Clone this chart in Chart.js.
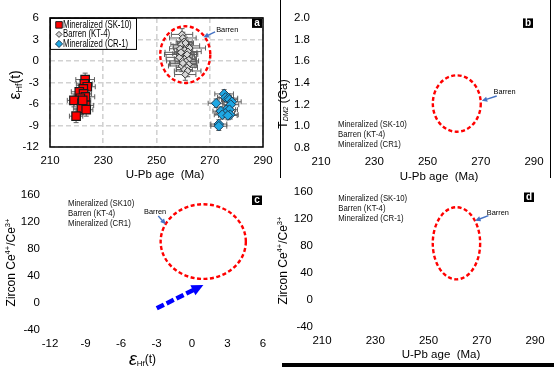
<!DOCTYPE html>
<html>
<head>
<meta charset="utf-8">
<script src="https://cdn.jsdelivr.net/npm/chart.js@4/dist/chart.umd.min.js"></script>
<style>
html, body { margin: 0; padding: 0; background: #fff; }
#wrap { position: relative; width: 554px; height: 368px; overflow: hidden; }
#wrap canvas { position: absolute; left: 0; top: 0; }
.rule { position: absolute; background: #000; }
</style>
</head>
<body>
<div id="wrap">
  <canvas id="chartA" width="554" height="368"></canvas>
  <canvas id="chartB" width="554" height="368"></canvas>
  <canvas id="chartC" width="554" height="368"></canvas>
  <canvas id="chartD" width="554" height="368"></canvas>
  <div class="rule" style="left:280px;top:0;width:1px;height:178px"></div>
  <div class="rule" style="left:550px;top:0;width:1px;height:178px"></div>
  <div class="rule" style="left:282px;top:363px;width:272px;height:4px"></div>
</div>
<script>
// Panel a data: U-Pb age (Ma) vs eHf(t), with 1 sigma errors
const sk10Age = [223.2, 222.9, 224.0, 222.5, 221.0, 222.6, 223.3, 221.4, 219.0, 222.0, 223.4, 221.8, 223.6, 219.8, 222.3];
const sk10Hf = [-2.6, -3.2, -3.6, -3.9, -4.3, -4.6, -5.0, -5.2, -5.5, -5.9, -6.2, -6.6, -6.8, -7.7, -5.5];
const sk10AgeErr = [3.5, 3.0, 3.0, 2.5, 3.0, 3.0, 3.5, 3.0, 2.5, 3.0, 3.0, 3.0, 2.5, 2.5, 3.0];
const sk10HfErr = [0.9, 0.9, 0.9, 0.9, 0.9, 0.9, 0.9, 0.9, 0.9, 0.9, 0.9, 0.9, 0.9, 0.9, 0.9];

const kt4Age = [259.6, 259.9, 260.4, 259.4, 261.2, 262.4, 258.9, 260.6, 261.8, 260.1, 259.0, 261.3, 258.6, 260.7,
  262.0, 259.8, 261.0, 260.2, 262.1, 259.5, 261.4, 260.5, 261.7, 260.8, 259.2, 260.9, 261.5, 259.9];
const kt4Hf = [3.7, 3.2, 2.7, 2.3, 2.1, 1.8, 1.7, 1.5, 1.3, 1.0, 0.9, 0.7, 0.5, 0.3,
  0.2, 0.0, -0.1, -0.4, -0.5, -0.7, -0.9, -1.2, -1.4, -1.9, 1.2, 2.5, 0.9, -0.3];
const kt4AgeErr = [4, 5, 3, 4, 5, 6, 4, 3, 5, 4, 6, 3, 5, 4, 3, 6, 4, 5, 3, 5, 4, 3, 5, 4, 6, 3, 4, 5];
const kt4HfErr = [0.8, 0.8, 0.8, 0.8, 0.8, 0.8, 0.8, 0.8, 0.8, 0.8, 0.8, 0.8, 0.8, 0.8,
  0.8, 0.8, 0.8, 0.8, 0.8, 0.8, 0.8, 0.8, 0.8, 0.8, 0.8, 0.8, 0.8, 0.8];

const cr1Age = [275.4, 275.9, 277.0, 277.4, 272.4, 278.3, 277.9, 276.2, 277.4, 274.2, 275.8, 277.7, 274.7, 276.8, 273.4, 273.4];
const cr1Hf = [-4.6, -5.1, -5.2, -5.4, -5.9, -5.7, -6.1, -6.8, -6.8, -7.0, -7.3, -7.5, -7.5, -7.6, -8.8, -9.1];
const cr1AgeErr = [3.5, 3.0, 3.5, 3.0, 3.0, 3.5, 3.0, 3.5, 3.0, 3.0, 3.5, 3.0, 3.0, 3.5, 3.0, 3.0];
const cr1HfErr = [0.6, 0.6, 0.6, 0.6, 0.6, 0.6, 0.6, 0.6, 0.6, 0.6, 0.6, 0.6, 0.6, 0.6, 0.6, 0.6];

// Axis ranges and tick steps [min, max, step]
const ageAxis = [210, 290, 20];
const hfAxisA = [-12, 6, 3];
const tdmAxis = [0.8, 2.0, 0.2];
const hfAxisC = [-12, 6, 3];
const ceAxis = [-40, 160, 40];

// "Barren" field ellipses [centreX, centreY, radiusX, radiusY]
const barrenA = [260.8, 0.88, 9.4, 3.95];
const barrenB = [261.0, 1.21, 9.0, 0.26];
const barrenC = [0.95, 91, 3.6, 55.3];
const barrenD = [260.5, 84, 8.9, 53.4];

// Pointer arrows [fromX, fromY, toX, toY] and "Barren" label anchor [x, y]
const arrowA = [272.0, 4.05, 267.6, 3.3];
const arrowB = [276.0, 1.28, 270.4, 1.235];
const arrowC = [-2.85, 128.9, -2.22, 116.6];
const arrowD = [272.5, 124.9, 267.5, 117.5];
const labelA = [272.4, 4.4];
const labelB = [274.8, 1.32];
const labelC = [-4.05, 135.3];
const labelD = [271.9, 129.9];
const trendC = [-2.98, -7.9, 0.96, 26.7];

const seriesNamesA = ["Mineralized (SK-10)", "Barren (KT-4)", "Mineralized (CR-1)"];
const seriesNamesB = ["Mineralized (SK-10)", "Barren (KT-4)", "Mineralized (CR1)"];
const seriesNamesC = ["Mineralized (SK10)", "Barren (KT-4)", "Mineralized (CR1)"];
const seriesNamesD = ["Mineralized (SK-10)", "Barren (KT-4)", "Mineralized (CR-1)"];

Chart.defaults.font.family = "'Liberation Sans', Arial, sans-serif";
Chart.defaults.color = "#000";

const RED = "#ff0000", GREY = "#d6d6d6", CYAN = "#1fa8e4";

function pts(xs, ys) { return xs.map((x, i) => ({ x: x, y: ys[i] })); }

function squeezeText(ctx, text, x, y, size, scale) {
  ctx.save();
  ctx.font = size + "px 'Liberation Sans', Arial, sans-serif";
  ctx.textBaseline = "middle";
  ctx.translate(x, y);
  ctx.scale(scale, 1);
  ctx.fillText(text, 0, 0);
  ctx.restore();
}

// parts: {t, size, dy, italic}
function richText(ctx, parts, x, y, rotate) {
  ctx.save();
  ctx.translate(x, y);
  if (rotate) ctx.rotate(-Math.PI / 2);
  ctx.textBaseline = "middle";
  ctx.fillStyle = "#000";
  const fontOf = p => (p.italic ? "italic " : "") + p.size + "px 'Liberation Sans', Arial, sans-serif";
  const widths = parts.map(p => { ctx.font = fontOf(p); return ctx.measureText(p.t).width; });
  let cx = -widths.reduce((a, b) => a + b, 0) / 2;
  parts.forEach((p, i) => {
    ctx.font = fontOf(p);
    ctx.fillText(p.t, cx, p.dy || 0);
    cx += widths[i];
  });
  ctx.restore();
}

function arrow(ctx, x0, y0, x1, y1, color, width, head, dash) {
  const ang = Math.atan2(y1 - y0, x1 - x0);
  ctx.save();
  ctx.strokeStyle = color;
  ctx.fillStyle = color;
  ctx.lineWidth = width;
  ctx.setLineDash(dash || []);
  ctx.beginPath();
  ctx.moveTo(x0, y0);
  ctx.lineTo(x1 - Math.cos(ang) * head * 0.8, y1 - Math.sin(ang) * head * 0.8);
  ctx.stroke();
  ctx.setLineDash([]);
  ctx.beginPath();
  ctx.moveTo(x1, y1);
  ctx.lineTo(x1 - head * Math.cos(ang - 0.45), y1 - head * Math.sin(ang - 0.45));
  ctx.lineTo(x1 - head * Math.cos(ang + 0.45), y1 - head * Math.sin(ang + 0.45));
  ctx.closePath();
  ctx.fill();
  ctx.restore();
}

function makeDeco(cfg) {
  return {
    id: "deco",
    beforeDatasetsDraw(chart) {
      const ctx = chart.ctx, xs = chart.scales.x, ys = chart.scales.y;
      chart.data.datasets.forEach(ds => {
        if (!ds.errX) return;
        ctx.save();
        ctx.strokeStyle = "#5e5e5e";
        ctx.lineWidth = 1;
        ds.data.forEach((p, i) => {
          const px = xs.getPixelForValue(p.x), py = ys.getPixelForValue(p.y);
          const x0 = xs.getPixelForValue(p.x - ds.errX[i]), x1 = xs.getPixelForValue(p.x + ds.errX[i]);
          const y0 = ys.getPixelForValue(p.y - ds.errY[i]), y1 = ys.getPixelForValue(p.y + ds.errY[i]);
          ctx.beginPath();
          ctx.moveTo(x0, py); ctx.lineTo(x1, py);
          ctx.moveTo(x0, py - 2.5); ctx.lineTo(x0, py + 2.5);
          ctx.moveTo(x1, py - 2.5); ctx.lineTo(x1, py + 2.5);
          ctx.moveTo(px, y0); ctx.lineTo(px, y1);
          ctx.moveTo(px - 2.5, y0); ctx.lineTo(px + 2.5, y0);
          ctx.moveTo(px - 2.5, y1); ctx.lineTo(px + 2.5, y1);
          ctx.stroke();
        });
        ctx.restore();
      });
    },
    afterDraw(chart) {
      const ctx = chart.ctx, a = chart.chartArea, xs = chart.scales.x, ys = chart.scales.y;
      const X = v => xs.getPixelForValue(v), Y = v => ys.getPixelForValue(v);

      // dashed barren ellipse
      const e = cfg.ellipse;
      ctx.save();
      ctx.strokeStyle = RED;
      ctx.lineWidth = 2.4;
      ctx.setLineDash([4, 2.5]);
      ctx.beginPath();
      ctx.ellipse(X(e[0]), Y(e[1]), Math.abs(X(e[0] + e[2]) - X(e[0])), Math.abs(Y(e[1] + e[3]) - Y(e[1])), 0, 0, Math.PI * 2);
      ctx.stroke();
      ctx.restore();

      // barren pointer
      const r = cfg.arrow;
      arrow(ctx, X(r[0]), Y(r[1]), X(r[2]), Y(r[3]), "#4472c4", 1.4, 6);
      ctx.fillStyle = "#000";
      squeezeText(ctx, "Barren", X(cfg.label[0]), Y(cfg.label[1]), 8, 0.92);

      if (cfg.trend) {
        const t = cfg.trend;
        arrow(ctx, X(t[0]), Y(t[1]), X(t[2]), Y(t[3]), "#0000ff", 4.5, 13, [8, 3]);
      }

      // plot box (panel a only)
      if (cfg.box) {
        ctx.save();
        ctx.strokeStyle = "#000";
        ctx.lineWidth = 1.5;
        ctx.strokeRect(a.left, a.top, a.right - a.left, a.bottom - a.top);
        ctx.restore();
      }

      // series names
      const names = cfg.names;
      if (cfg.legendBox) {
        const lx = a.left, ly = a.top;
        ctx.save();
        ctx.fillStyle = "#fff";
        ctx.fillRect(lx + 1, ly + 1, 86, 30);
        ctx.strokeStyle = "#000";
        ctx.lineWidth = 1;
        ctx.strokeRect(lx + 0.5, ly + 0.5, 86, 31);
        chart.data.datasets.forEach((ds, i) => {
          const my = ly + 7 + i * 9.5;
          ctx.fillStyle = ds.backgroundColor;
          ctx.strokeStyle = ds.borderColor;
          ctx.lineWidth = 1;
          Chart.helpers.drawPoint(ctx, { pointStyle: ds.pointStyle, radius: i === 0 ? 4.6 : i === 1 ? 3 : 3.6, rotation: 0, borderWidth: 1 }, lx + 9, my);
          ctx.fillStyle = "#000";
          squeezeText(ctx, names[i], lx + 13, my, 10.5, 0.74);
        });
        ctx.restore();
      } else {
        ctx.fillStyle = "#111";
        names.forEach((n, i) => squeezeText(ctx, n, a.left + cfg.namesAt[0], a.top + cfg.namesAt[1] + i * 10.2, 9.5, 0.82));
      }

      // panel badge
      ctx.save();
      ctx.fillStyle = "#000";
      ctx.fillRect(a.right - 11, a.top + 0.5, 10, 9.5);
      ctx.fillStyle = "#fff";
      ctx.font = "bold 10px 'Liberation Sans', Arial, sans-serif";
      ctx.textAlign = "center";
      ctx.textBaseline = "middle";
      ctx.fillText(cfg.badge, a.right - 6, a.top + 5.5);
      ctx.restore();

      // axis titles
      const cxm = (a.left + a.right) / 2, cym = (a.top + a.bottom) / 2;
      richText(ctx, cfg.xTitle, cxm + cfg.xTitleAt[0], a.bottom + cfg.xTitleAt[1], false);
      richText(ctx, cfg.yTitle, a.left + cfg.yTitleAt[0], cym + cfg.yTitleAt[1], true);
    }
  };
}

function axis(range, opts) {
  return {
    type: "linear",
    min: range[0],
    max: range[1],
    ticks: {
      stepSize: range[2],
      color: "#000",
      font: { size: 11.5 },
      padding: opts.pad,
      callback: opts.fmt || (v => v)
    },
    grid: opts.grid ? { color: "#d2d2d2", lineWidth: 1.6, drawTicks: false } : { display: false, drawTicks: false },
    border: { display: false, dash: [5, 3] },
    afterFit: s => { if (opts.h) s.height = opts.h; if (opts.w) s.width = opts.w; }
  };
}

function makeChart(id, area, xAxis, yAxis, datasets, cfg) {
  return new Chart(document.getElementById(id), {
    type: "scatter",
    data: { datasets: datasets },
    options: {
      responsive: false,
      animation: false,
      events: [],
      layout: { padding: { left: area[0] - 40, top: area[2], right: 554 - area[1], bottom: 368 - area[3] - 20 } },
      plugins: { legend: { display: false }, tooltip: { enabled: false } },
      scales: { x: xAxis, y: yAxis }
    },
    plugins: [makeDeco(cfg)]
  });
}

const ageTitle = [{ t: "U-Pb age  (Ma)", size: 11.5 }];
const ceTitle = [
  { t: "Zircon Ce", size: 12 }, { t: "4+", size: 7.5, dy: -4 },
  { t: "/Ce", size: 12 }, { t: "3+", size: 7.5, dy: -4 }
];

// (a) eHf(t) vs U-Pb age
makeChart("chartA", [50, 263, 12, 147],
  axis(ageAxis, { pad: 7, h: 20, grid: true }),
  axis(hfAxisA, { pad: 11, w: 40, grid: true }),
  [
    { label: seriesNamesA[0], data: pts(sk10Age, sk10Hf), errX: sk10AgeErr, errY: sk10HfErr, pointStyle: "rect", pointRadius: 6,
      backgroundColor: RED, borderColor: "#1a1a1a", borderWidth: 1.2 },
    { label: seriesNamesA[1], data: pts(kt4Age, kt4Hf), errX: kt4AgeErr, errY: kt4HfErr, pointStyle: "rectRot", pointRadius: 3.6,
      backgroundColor: GREY, borderColor: "#3a3a3a", borderWidth: 1 },
    { label: seriesNamesA[2], data: pts(cr1Age, cr1Hf), errX: cr1AgeErr, errY: cr1HfErr, pointStyle: "rectRot", pointRadius: 4.8,
      backgroundColor: CYAN, borderColor: "#1d3d57", borderWidth: 1 }
  ],
  { ellipse: barrenA, arrow: arrowA, label: labelA, box: true, legendBox: true, names: seriesNamesA, badge: "a",
    xTitle: ageTitle, xTitleAt: [8.5, 28],
    yTitle: [{ t: "\u03b5", size: 16 }, { t: "Hf", size: 9, dy: 4 }, { t: "(t)", size: 14 }], yTitleAt: [-34, 2.5] });

// (b) TDM2 vs U-Pb age
makeChart("chartB", [321, 534, 13, 148],
  axis(ageAxis, { pad: 7, h: 20 }),
  axis(tdmAxis, { pad: 11, w: 40, fmt: v => v.toFixed(1) }),
  [],
  { ellipse: barrenB, arrow: arrowB, label: labelB, names: seriesNamesB, namesAt: [17, 106], badge: "b",
    xTitle: ageTitle, xTitleAt: [11.5, 29],
    yTitle: [{ t: "T", size: 12 }, { t: "DM2", size: 7, dy: 3, italic: true }, { t: " (Ga)", size: 12 }], yTitleAt: [-37.5, 21] });

// (c) Ce4+/Ce3+ vs eHf(t)
makeChart("chartC", [50, 263, 195, 330],
  axis(hfAxisC, { pad: 7, h: 20 }),
  axis(ceAxis, { pad: 10, w: 40 }),
  [],
  { ellipse: barrenC, arrow: arrowC, label: labelC, trend: trendC, names: seriesNamesC, namesAt: [18, 8.3], badge: "c",
    xTitle: [{ t: "\u03b5", size: 18, italic: true }, { t: "Hf", size: 8, dy: 4 }, { t: "(t)", size: 12 }], xTitleAt: [-14, 30],
    yTitle: ceTitle, yTitleAt: [-38, 0] });

// (d) Ce4+/Ce3+ vs U-Pb age
makeChart("chartD", [322, 535, 192, 327],
  axis(ageAxis, { pad: 7, h: 20 }),
  axis(ceAxis, { pad: 9, w: 40 }),
  [],
  { ellipse: barrenD, arrow: arrowD, label: labelD, names: seriesNamesD, namesAt: [16.3, 6.3], badge: "d",
    xTitle: ageTitle, xTitleAt: [12.5, 28],
    yTitle: ceTitle, yTitleAt: [-38, 1] });
</script>
</body>
</html>
